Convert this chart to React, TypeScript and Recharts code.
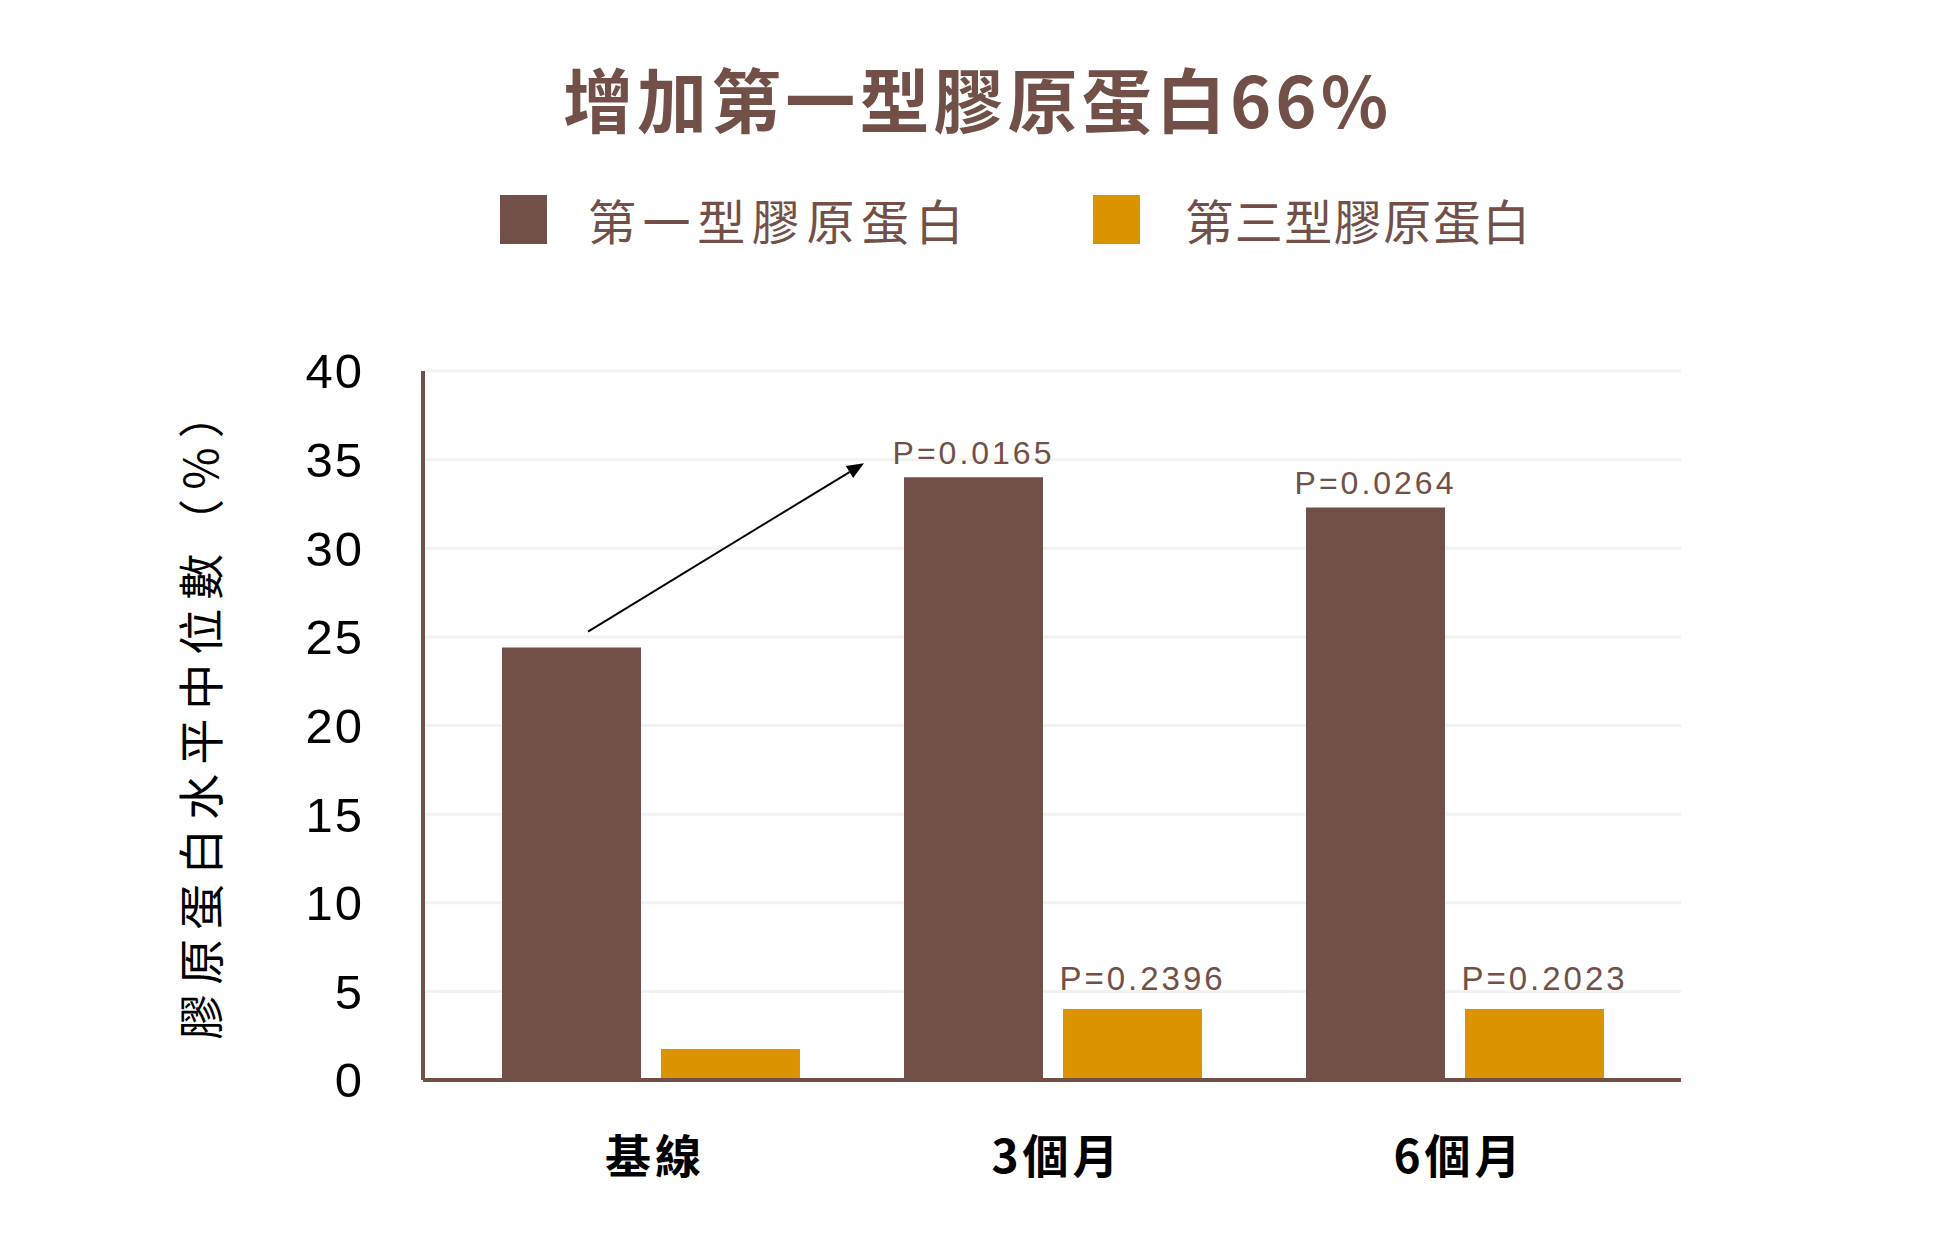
import React from "react";
import {
  BarChart,
  Bar,
  XAxis,
  YAxis,
  CartesianGrid,
  LabelList,
  ReferenceLine,
} from "recharts";

const BROWN = "#725047";
const ORANGE = "#DB9400";
const CJK = "'Noto Sans CJK TC', 'Noto Sans', sans-serif";
const LATIN = "'Liberation Sans', Arial, sans-serif";

const categories = ["基線", "3個月", "6個月"];
const type1Values = [24.4, 34.0, 32.3];
const type3Values = [1.75, 4.0, 4.0];
const type1PLabels = ["", "P=0.0165", "P=0.0264"];
const type3PLabels = ["", "P=0.2396", "P=0.2023"];
const yTicks = [0, 5, 10, 15, 20, 25, 30, 35, 40];

// arrow from the baseline bar towards the 3-month bar
const arrowFrom = { x: "基線", y: 25.3 };
const arrowTo = { x: "3個月", y: 34.8 };

const legendItems = [
  { name: "第一型膠原蛋白", color: BROWN, spacing: 6.6, textGap: 41, after: 123 },
  { name: "第三型膠原蛋白", color: ORANGE, spacing: 1.5, textGap: 45, after: 0 },
];

const data = categories.map((name, i) => ({
  name,
  type1: type1Values[i],
  type3: type3Values[i],
  p1: type1PLabels[i],
  p3: type3PLabels[i],
}));

const pLabel = (color: string, dx: number, gap: number, size: number) => (props: any) => {
  const { x, y, width, value } = props;
  if (!value) return null;
  return (
    <text
      x={Number(x) + Number(width) / 2 + dx}
      y={Number(y) - gap}
      textAnchor="middle"
      fill={color}
      fontSize={size}
      fontFamily={LATIN}
      letterSpacing={3}
    >
      {value}
    </text>
  );
};

const Arrow = (props: any) => {
  const x1 = props.x1 - 63;
  const y1 = props.y1;
  const x2 = props.x2 - 189;
  const y2 = props.y2;
  const a = Math.atan2(y2 - y1, x2 - x1);
  const len = 17;
  const half = 7;
  const bx = x2 - len * Math.cos(a);
  const by = y2 - len * Math.sin(a);
  const px = -Math.sin(a) * half;
  const py = Math.cos(a) * half;
  return (
    <g>
      <line x1={x1} y1={y1} x2={bx} y2={by} stroke="#000" strokeWidth={2} />
      <polygon
        points={`${x2},${y2} ${bx + px},${by + py} ${bx - px},${by - py}`}
        fill="#000"
      />
    </g>
  );
};

const XTick = (props: any) => {
  const { x, y, payload } = props;
  return (
    <text
      x={x + 4}
      y={y + 85}
      textAnchor="middle"
      fill="#000"
      fontSize={46}
      fontWeight={700}
      fontFamily={CJK}
      letterSpacing={4}
    >
      {payload.value}
    </text>
  );
};

const YTitle = (props: any) => {
  const vb = props.viewBox || {};
  const cx = vb.x + 98;
  const cy = vb.y + vb.height / 2 - 14;
  return (
    <text
      transform={`translate(${cx}, ${cy}) rotate(-90)`}
      textAnchor="middle"
      dominantBaseline="central"
      fill="#000"
      fontSize={46}
      fontFamily={CJK}
      letterSpacing={9}
    >
      膠原蛋白水平中位數（%）
    </text>
  );
};

export default function App() {
  return (
    <div style={{ position: "relative", width: 1939, height: 1238, background: "#fff" }}>
      <style>{`body{margin:0}`}</style>
      <div
        style={{
          position: "absolute",
          left: 563,
          top: 63,
          fontFamily: CJK,
          fontWeight: 700,
          fontSize: 70,
          lineHeight: "70px",
          letterSpacing: 4.1,
          color: BROWN,
          whiteSpace: "nowrap",
        }}
      >
        增加第一型膠原蛋白66%
      </div>
      <div
        style={{
          position: "absolute",
          left: 500,
          top: 195,
          display: "flex",
          alignItems: "center",
          fontFamily: CJK,
          fontSize: 48,
          lineHeight: "49px",
          color: BROWN,
          whiteSpace: "nowrap",
        }}
      >
        {legendItems.map((item) => (
          <div
            key={item.name}
            style={{ display: "flex", alignItems: "center", marginRight: item.after }}
          >
            <span
              style={{ width: 47, height: 49, background: item.color, marginRight: item.textGap }}
            />
            <span style={{ letterSpacing: item.spacing }}>{item.name}</span>
          </div>
        ))}
      </div>
      <BarChart
        width={1939}
        height={1238}
        data={data}
        margin={{ top: 371, right: 258, bottom: 58, left: 100 }}
        barSize={139}
        barGap={20}
        style={{ position: "absolute", left: 0, top: 0 }}
      >
        <CartesianGrid vertical={false} stroke="#F2F2EE" strokeWidth={3} />
        <XAxis
          dataKey="name"
          height={100}
          padding={{ left: 27, right: 25 }}
          axisLine={{ stroke: BROWN, strokeWidth: 4 }}
          tickLine={false}
          tick={<XTick />}
          interval={0}
        />
        <YAxis
          width={323}
          domain={[0, 40]}
          ticks={yTicks}
          interval={0}
          axisLine={{ stroke: BROWN, strokeWidth: 4 }}
          tickLine={false}
          tickMargin={53}
          tick={{ fill: "#000", fontSize: 49, fontFamily: LATIN, letterSpacing: 2 }}
          label={<YTitle />}
        />
        <Bar dataKey="type1" fill={BROWN} isAnimationActive={false}>
          <LabelList dataKey="p1" content={pLabel(BROWN, 0, 13, 32)} />
        </Bar>
        <Bar dataKey="type3" fill={ORANGE} isAnimationActive={false}>
          <LabelList dataKey="p3" content={pLabel(BROWN, 10, 19, 33)} />
        </Bar>
        <ReferenceLine segment={[arrowFrom, arrowTo]} shape={Arrow} />
      </BarChart>
    </div>
  );
}
